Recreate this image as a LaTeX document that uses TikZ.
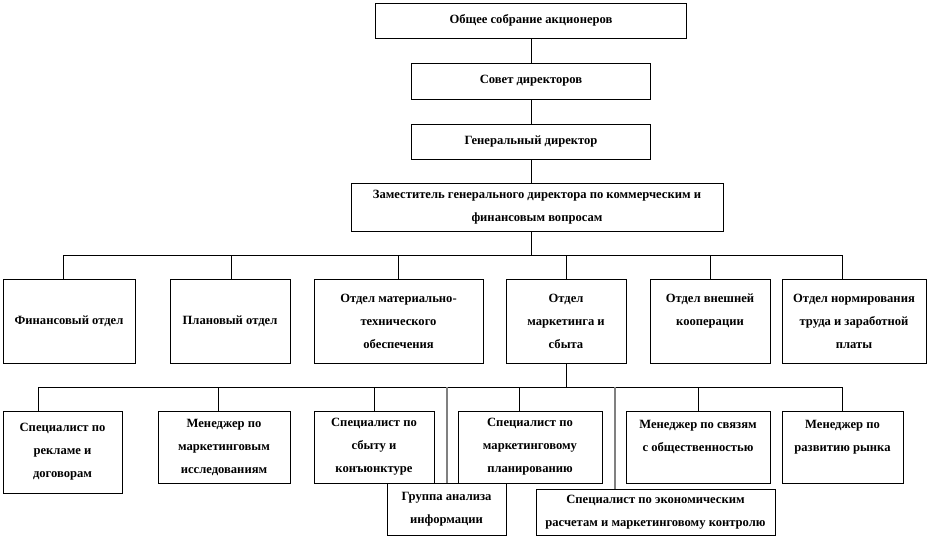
\documentclass[tikz,border=0pt]{standalone}
\usepackage{fontspec}
\setmainfont{Liberation Serif}
\usepackage{tikz}

\tikzset{
box/.style={draw, line width=0.8pt, inner sep=0pt, align=center,
  font=\bfseries\fontsize{12.6}{23}\selectfont},
link/.style={line width=0.8pt},
greylink/.style={color=black!50!white, line width=1.8pt}
}

\begin{document}
\begin{tikzpicture}[x=1pt,y=-1pt]
\useasboundingbox (0,0) rectangle (930,538);
\node[box, minimum width=311, minimum height=35] (sobr) at (531,20.5) {Общее собрание акционеров};
\node[box, minimum width=239, minimum height=36] (sovet) at (531,81) {Совет директоров};
\node[box, minimum width=239, minimum height=35] (gendir) at (531,141.5) {Генеральный директор};
\node[box, minimum width=372, minimum height=48] (zam) at (537,207) {Заместитель генерального директора по коммерческим и\\финансовым вопросам};

\node[box, minimum width=132, minimum height=84] (fin) at (69,321) {Финансовый отдел};
\node[box, minimum width=120, minimum height=84] (plan) at (230,321) {Плановый отдел};
\node[box, minimum width=169, minimum height=84] (mto) at (398.5,321) {Отдел материально-\\технического\\обеспечения};
\node[box, minimum width=120, minimum height=84] (mark) at (566,321) {Отдел\\маркетинга и\\сбыта};
\node[box, minimum width=120, minimum height=84] (vnesh) at (710,321) {Отдел внешней\\кооперации\\\mbox{}};
\node[box, minimum width=144, minimum height=84] (norm) at (854,321) {Отдел нормирования\\труда и заработной\\платы};

\node[box, minimum width=119, minimum height=82] (rekl) at (62.5,452) {Специалист по\\рекламе и\\договорам};
\node[box, minimum width=132, minimum height=72] (issl) at (224,447) {Менеджер по\\маркетинговым\\исследованиям};
\node[box, minimum width=120, minimum height=72] (sbyt) at (374,447) {Специалист по\\сбыту и\\конъюнктуре};
\node[box, minimum width=144, minimum height=72] (mplan) at (530,447) {Специалист по\\маркетинговому\\планированию};
\node[box, minimum width=144, minimum height=72] (svyaz) at (698,447) {Менеджер по связям\\с общественностью\\\mbox{}};
\node[box, minimum width=121, minimum height=72] (rynok) at (842.5,447) {Менеджер по\\развитию рынка\\\mbox{}};
\node[box, minimum width=119, minimum height=52] (grupa) at (446.5,509) {Группа анализа\\информации};
\node[box, minimum width=239, minimum height=46] (econ) at (655.5,512) {Специалист по экономическим\\расчетам и маркетинговому контролю};

\draw[link] (sobr) -- (sovet);
\draw[link] (sovet) -- (gendir);
\draw[link] (gendir.south) -- (gendir.south |- zam.north);

\coordinate (busA) at (531,255);
\coordinate (busAl) at (63,255);
\coordinate (busAr) at (842,255);
\draw[link] (busA |- zam.south) -- (busA);
\draw[link] (busAl) -- (busAr);
\foreach \n/\x in {fin/63,plan/231,mto/398,mark/566,vnesh/710,norm/842} {
\coordinate (d\n) at (\x,255);
\draw[link] (d\n) -- (d\n |- \n.north);
}

\coordinate (busB) at (566,387);
\coordinate (busBl) at (38,387);
\coordinate (busBr) at (842,387);
\draw[link] (mark.south) -- (busB);
\draw[link] (busBl) -- (busBr);
\foreach \n/\x in {rekl/38,issl/218,sbyt/374,mplan/519,svyaz/698,rynok/842} {
\coordinate (d\n) at (\x,387);
\draw[link] (d\n) -- (d\n |- \n.north);
}
\foreach \n/\x in {grupa/447,econ/615} {
\coordinate (d\n) at (\x,387);
\draw[greylink] (d\n) -- (d\n |- \n.north);
}
\end{tikzpicture}
\end{document}
